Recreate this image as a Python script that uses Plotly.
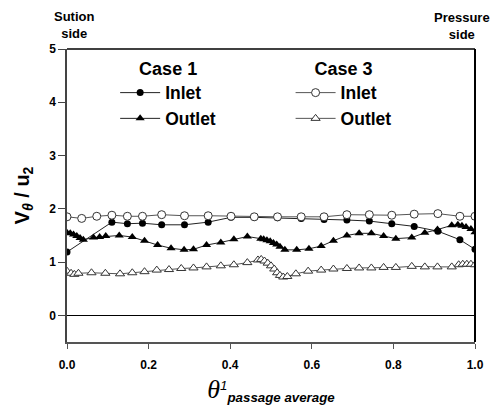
import plotly.graph_objects as go

# Case 1 inlet (filled circles)
c1_in_x = [0.0, 0.11, 0.148, 0.185, 0.232, 0.288, 0.346, 0.402, 0.459, 0.516, 0.574,
           0.630, 0.686, 0.741, 0.796, 0.851, 0.909, 0.963, 1.0]
c1_in_y = [1.19, 1.75, 1.72, 1.73, 1.70, 1.70, 1.75, 1.84, 1.84, 1.83, 1.82,
           1.80, 1.79, 1.77, 1.72, 1.67, 1.58, 1.42, 1.24]

# Case 1 outlet (filled triangles)
c1_out_x = [0.0, 0.008, 0.016, 0.024, 0.032, 0.04, 0.065, 0.08, 0.095, 0.128, 0.16,
            0.19, 0.222, 0.255, 0.287, 0.31, 0.342, 0.377, 0.409, 0.442, 0.475, 0.482,
            0.49, 0.498, 0.506, 0.514, 0.522, 0.534, 0.563, 0.593, 0.623, 0.653, 0.686,
            0.716, 0.746, 0.776, 0.806, 0.845, 0.877, 0.908, 0.943, 0.958, 0.968, 0.978,
            0.99, 1.0]
c1_out_y = [1.55, 1.54, 1.52, 1.49, 1.45, 1.42, 1.46, 1.47, 1.49, 1.50, 1.47,
            1.40, 1.32, 1.26, 1.23, 1.24, 1.32, 1.37, 1.43, 1.48, 1.44, 1.43,
            1.41, 1.39, 1.36, 1.33, 1.29, 1.23, 1.23, 1.25, 1.30, 1.40, 1.50,
            1.54, 1.54, 1.49, 1.44, 1.46, 1.55, 1.61, 1.69, 1.70, 1.68, 1.66,
            1.62, 1.56]

# Case 3 inlet (open circles)
c3_in_x = [0.0, 0.036, 0.073, 0.11, 0.148, 0.185, 0.232, 0.288, 0.346, 0.402, 0.459,
           0.516, 0.574, 0.630, 0.686, 0.741, 0.796, 0.851, 0.909, 0.963, 1.0]
c3_in_y = [1.85, 1.82, 1.86, 1.88, 1.86, 1.86, 1.89, 1.87, 1.87, 1.86, 1.85,
           1.85, 1.85, 1.85, 1.89, 1.89, 1.88, 1.90, 1.91, 1.86, 1.86]

# Case 3 outlet (open triangles)
c3_out_x = [0.0, 0.01, 0.018, 0.028, 0.06, 0.094, 0.13, 0.16, 0.19, 0.22, 0.25,
            0.28, 0.31, 0.342, 0.377, 0.409, 0.442, 0.468, 0.476, 0.484, 0.492, 0.5,
            0.508, 0.515, 0.522, 0.53, 0.54, 0.561, 0.591, 0.623, 0.653, 0.686, 0.716,
            0.746, 0.776, 0.806, 0.845, 0.877, 0.908, 0.943, 0.96, 0.97, 0.98, 0.99, 1.0]
c3_out_y = [0.83, 0.79, 0.77, 0.79, 0.80, 0.79, 0.78, 0.80, 0.82, 0.85, 0.86,
            0.88, 0.89, 0.91, 0.93, 0.95, 0.99, 1.04, 1.05, 1.02, 0.98, 0.93,
            0.87, 0.80, 0.75, 0.72, 0.73, 0.78, 0.83, 0.85, 0.87, 0.88, 0.89,
            0.89, 0.90, 0.90, 0.92, 0.91, 0.91, 0.91, 0.95, 0.96, 0.96, 0.96, 0.95]

x_ticks = [0.0, 0.2, 0.4, 0.6, 0.8, 1.0]
x_tick_labels = ["0.0", "0.2", "0.4", "0.6", "0.8", "1.0"]
y_ticks = [0, 1, 2, 3, 4, 5]

FONT = "Liberation Sans"

fig = go.Figure()

fig.add_trace(go.Scatter(
    x=c1_in_x, y=c1_in_y, mode="lines+markers", name="Inlet", legend="legend",
    line=dict(color="#222222", width=1),
    marker=dict(symbol="circle", size=7, color="black")))
fig.add_trace(go.Scatter(
    x=c1_out_x, y=c1_out_y, mode="lines+markers", name="Outlet", legend="legend",
    line=dict(color="#222222", width=1),
    marker=dict(symbol="triangle-up", size=8, color="black")))
fig.add_trace(go.Scatter(
    x=c3_in_x, y=c3_in_y, mode="lines+markers", name="Inlet", legend="legend2",
    line=dict(color="#555555", width=1),
    marker=dict(symbol="circle", size=8, color="white", line=dict(color="#333333", width=1))))
fig.add_trace(go.Scatter(
    x=c3_out_x, y=c3_out_y, mode="lines+markers", name="Outlet", legend="legend2",
    line=dict(color="#555555", width=1),
    marker=dict(symbol="triangle-up", size=8, color="white", line=dict(color="#333333", width=1))))

legend_common = dict(
    font=dict(family=FONT, size=17.5, color="black", weight="bold"),
    bgcolor="rgba(0,0,0,0)", borderwidth=0, itemwidth=40,
    xanchor="left", yanchor="top", tracegroupgap=0,
)
title_font = dict(family=FONT, size=18, color="black", weight="bold")

fig.update_layout(
    width=490, height=407,
    margin=dict(l=67, r=15, t=49, b=65),
    paper_bgcolor="white", plot_bgcolor="white",
    showlegend=True,
    legend=dict(x=0.118, y=0.992,
                title=dict(text="Case 1", side="top center", font=title_font),
                **legend_common),
    legend2=dict(x=0.548, y=0.992,
                 title=dict(text="Case 3", side="top center", font=title_font),
                 **legend_common),
    xaxis=dict(range=[0, 1], tickvals=x_ticks, ticktext=x_tick_labels,
               showgrid=False, zeroline=False, automargin=False,
               showline=True, linecolor="#555555", linewidth=1.5,
               ticks="outside", ticklen=5, tickcolor="#555555", ticklabelstandoff=6,
               tickfont=dict(family=FONT, size=12, color="black", weight="bold"),
               title=dict(
                   text="<span style=\"font-family:'Liberation Serif';font-size:26px\"><i>θ</i></span>"
                        "<sup><i>1</i></sup><sub><b><i>passage average</i></b></sub>",
                   font=dict(family=FONT, size=19, color="black"), standoff=14)),
    yaxis=dict(range=[-0.5, 5], tickvals=y_ticks,
               showgrid=False, zeroline=True, zerolinecolor="black", zerolinewidth=1,
               automargin=False,
               showline=True, linecolor="#444444", linewidth=1.5,
               ticks="outside", ticklen=7, tickcolor="#444444",
               tickfont=dict(family=FONT, size=12, color="black", weight="bold"),
               title=dict(text="<b>V<sub><i>θ</i></sub> / u<sub>2</sub></b>",
                          font=dict(family=FONT, size=20, color="black"), standoff=14)),
    shapes=[
        dict(type="line", xref="paper", yref="paper", x0=0, x1=1, y0=1, y1=1,
             line=dict(color="black", width=1.5)),
        dict(type="line", xref="paper", yref="paper", x0=1, x1=1, y0=0, y1=1,
             line=dict(color="black", width=2)),
    ],
    annotations=[
        dict(text="<b>Sution<br>side</b>", xref="paper", yref="paper", x=0.017, y=1.082,
             xanchor="center", yanchor="middle",
             showarrow=False, font=dict(family=FONT, size=13, color="black"), align="center"),
        dict(text="<b>Pressure<br>side</b>", xref="paper", yref="paper", x=0.968, y=1.078,
             xanchor="center", yanchor="middle",
             showarrow=False, font=dict(family=FONT, size=13, color="black"), align="center"),
    ],
)

fig.write_html("out.html")
